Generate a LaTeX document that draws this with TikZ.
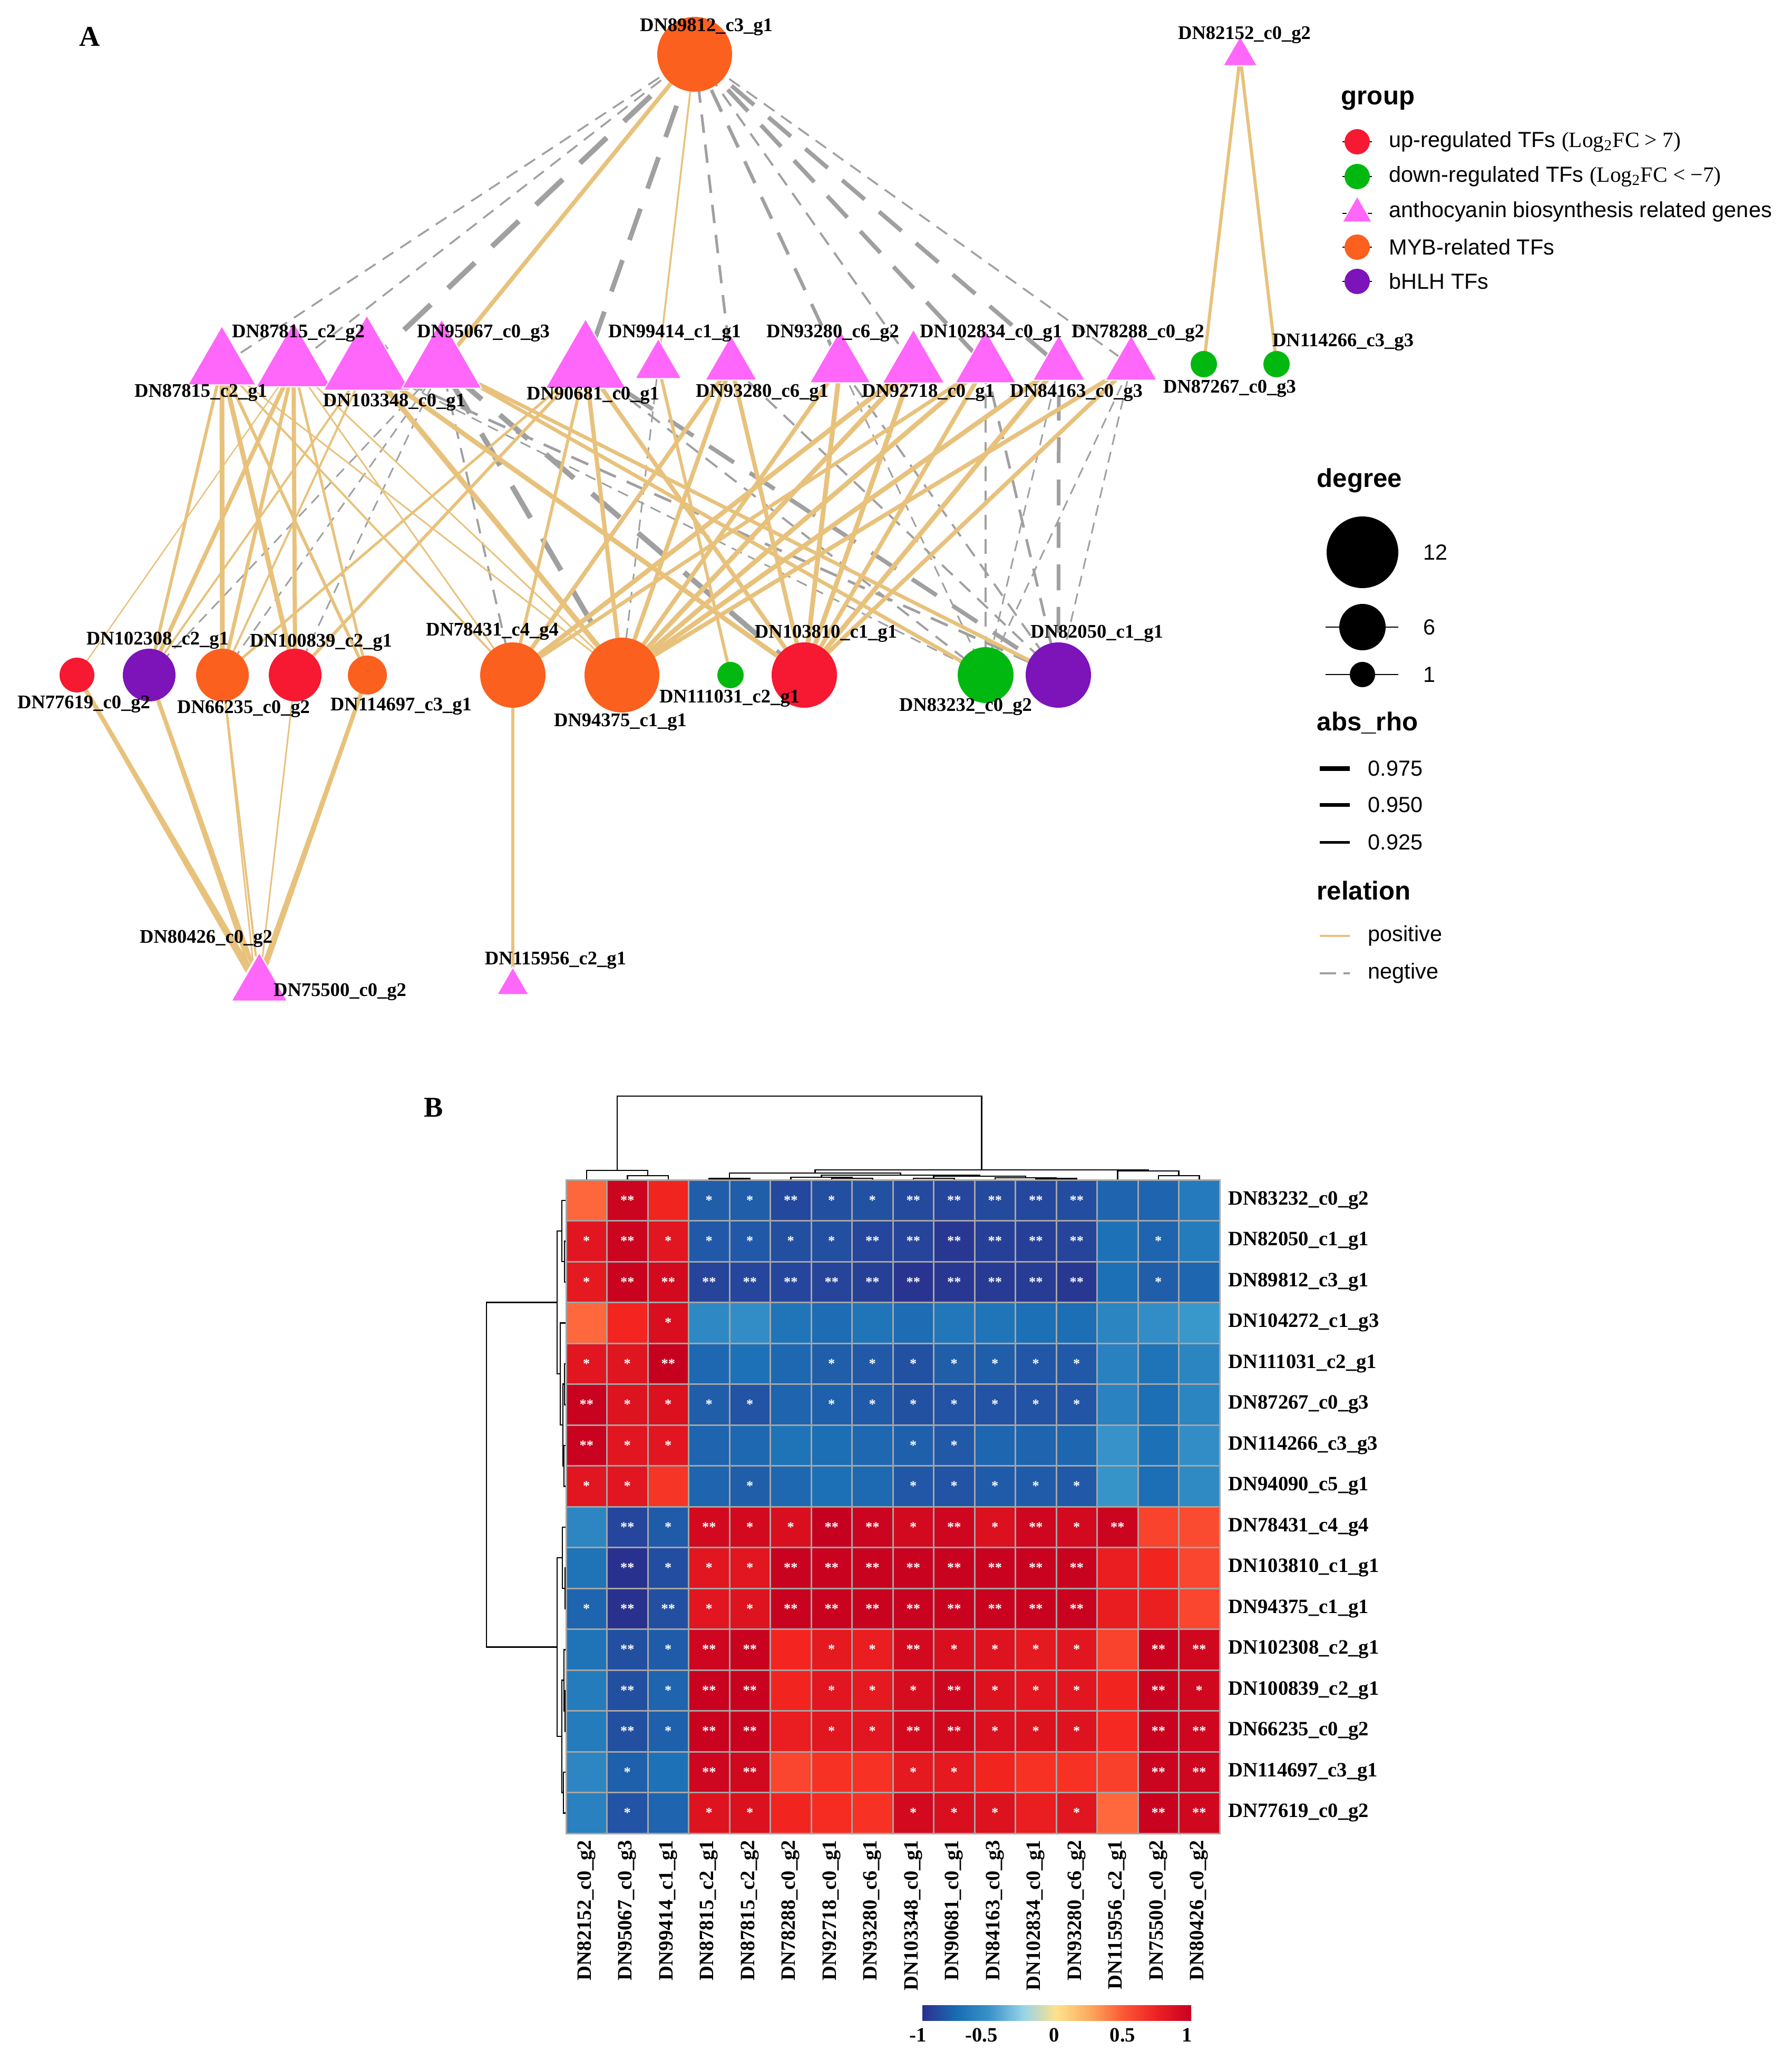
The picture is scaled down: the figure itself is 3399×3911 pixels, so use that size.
\documentclass[tikz,border=0pt]{standalone}
\usepackage{fontspec}
\setmainfont{Liberation Serif}
\setsansfont{Liberation Sans}
\usetikzlibrary{shapes.geometric,backgrounds}

\definecolor{tanc}{RGB}{232,194,124}
\definecolor{grayc}{RGB}{160,160,160}
\definecolor{pinkc}{RGB}{255,102,250}
\definecolor{upc}{RGB}{247,24,50}
\definecolor{downc}{RGB}{0,184,16}
\definecolor{mybc}{RGB}{252,96,30}
\definecolor{bhlhc}{RGB}{124,20,186}
\definecolor{hmgrid}{RGB}{165,165,165}
% heatmap ramp
\definecolor{hmA}{RGB}{41,49,142}
\definecolor{hmB}{RGB}{28,112,182}
\definecolor{hmC}{RGB}{60,155,205}
\definecolor{hmD}{RGB}{255,110,62}
\definecolor{hmE}{RGB}{245,38,32}
\definecolor{hmF}{RGB}{198,0,31}
% colour bar
\definecolor{cbA}{RGB}{43,47,142}
\definecolor{cbB}{RGB}{24,108,178}
\definecolor{cbC}{RGB}{58,146,200}
\definecolor{cbD}{RGB}{150,212,232}
\definecolor{cbE}{RGB}{255,226,140}
\definecolor{cbF}{RGB}{252,168,92}
\definecolor{cbG}{RGB}{252,86,52}
\definecolor{cbH}{RGB}{235,32,36}
\definecolor{cbI}{RGB}{200,0,31}
\pgfdeclarehorizontalshading{hmbar}{100bp}{color(0bp)=(cbA); color(25bp)=(cbA); color(31.25bp)=(cbB); color(37.5bp)=(cbC); color(43.75bp)=(cbD); color(50bp)=(cbE); color(56.25bp)=(cbF); color(62.5bp)=(cbG); color(68.75bp)=(cbH); color(75bp)=(cbI); color(100bp)=(cbI)}

% colour of one heatmap cell from its value
\newcommand\hmshade[1]{%
  \pgfmathsetmacro\hmv{#1}%
  \ifdim\hmv pt<-0.7pt
    \pgfmathtruncatemacro\hmp{min(100,(-0.7-(\hmv))/0.3*100)}\colorlet{hmcur}{hmA!\hmp!hmB}%
  \else\ifdim\hmv pt<0pt
    \pgfmathtruncatemacro\hmp{max(0,(-0.45-(\hmv))/0.25*100)}\colorlet{hmcur}{hmB!\hmp!hmC}%
  \else\ifdim\hmv pt<0.7pt
    \pgfmathtruncatemacro\hmp{max(0,((\hmv)-0.45)/0.25*100)}\colorlet{hmcur}{hmE!\hmp!hmD}%
  \else
    \pgfmathtruncatemacro\hmp{min(100,((\hmv)-0.7)/0.3*100)}\colorlet{hmcur}{hmF!\hmp!hmE}%
  \fi\fi\fi}
% dendrogram links
\newcommand\dtop[5]{\draw[dendro] (#1,#3) |- (#2,#5) -- (#2,#4);}
\newcommand\dleft[5]{\draw[dendro] (#3,#1) -| (#5,#2) -- (#4,#2);}

\tikzset{
  lbl/.style={font=\fontsize{10.4}{12}\selectfont\bfseries, inner sep=0pt},
  dot/.style={circle, inner sep=0pt, minimum size=#1*0.2mm},
  tri/.style={regular polygon, regular polygon sides=3, fill=pinkc, draw=white, line width=0.2mm, inner sep=0pt, minimum size=#1*0.1333mm},
  posedge/.style={draw=tanc, line width=#1*0.1mm},
  negedge/.style={draw=grayc, line width=#1*0.1mm, dash pattern=on #1*0.7mm off #1*0.45mm},
  hmlbl/.style={font=\fontsize{11}{13}\selectfont\bfseries, inner sep=0pt},
  hmstar/.style={font=\fontsize{7.5}{8}\selectfont\bfseries, text=white, inner sep=0pt},
  dendro/.style={line width=0.25mm},
  keytitle/.style={font=\fontsize{14}{16}\selectfont\sffamily\bfseries, anchor=west, inner sep=0pt},
  keytext/.style={font=\fontsize{11.8}{14}\selectfont\sffamily, anchor=west, inner sep=0pt},
  panel/.style={font=\fontsize{15.5}{18}\selectfont\bfseries, inner sep=0pt}
}

\begin{document}
\begin{tikzpicture}[x=0.1mm, y=-0.1mm]
\useasboundingbox (0,0) rectangle (3399,3911);

%% ---------------- A: network ----------------
\node[panel] (pA) at (170,70) {A};

% top row
\node[dot=71, fill=mybc] (n89812) at (1318,103) {};
\node[tri=56] (n82152) at (2353,106) {};
% genes
\node[tri=112] (n87815a) at (421,693) {};
\node[tri=123] (n87815b) at (557,693) {};
\node[tri=142] (n103348) at (696,693) {};
\node[tri=131] (n95067) at (838,693) {};
\node[tri=132] (n90681) at (1111,693) {};
\node[tri=76] (n99414) at (1249,693) {};
\node[tri=85] (n93280a) at (1387,693) {};
\node[tri=100] (n93280b) at (1594,693) {};
\node[tri=102] (n92718) at (1733,693) {};
\node[tri=100] (n102834) at (1870,693) {};
\node[tri=86] (n84163) at (2009,693) {};
\node[tri=85] (n78288) at (2146,693) {};
\node[dot=25, fill=downc] (n87267) at (2284,691) {};
\node[dot=25, fill=downc] (n114266) at (2422,691) {};
% TFs
\node[dot=33, fill=upc] (n77619) at (146,1281) {};
\node[dot=50, fill=bhlhc] (n102308) at (283,1281) {};
\node[dot=50, fill=mybc] (n66235) at (422,1281) {};
\node[dot=50, fill=upc] (n100839) at (560,1281) {};
\node[dot=37, fill=mybc] (n114697) at (697,1281) {};
\node[dot=62, fill=mybc] (n78431) at (973,1281) {};
\node[dot=71, fill=mybc] (n94375) at (1180,1281) {};
\node[dot=25, fill=downc] (n111031) at (1386,1281) {};
\node[dot=62, fill=upc] (n103810) at (1526,1281) {};
\node[dot=53, fill=downc] (n83232) at (1870,1281) {};
\node[dot=62, fill=bhlhc] (n82050) at (2008,1281) {};
% bottom genes
\node[tri=84] (n80426) at (485,1872) {};
\node[tri=92] (n75500) at (492,1869) {};
\node[tri=52] (n115956) at (973,1870) {};

% labels
\node[lbl] (t89812) at (1340,51) {DN89812\_c3\_g1};
\node[lbl] (t82152) at (2361,66) {DN82152\_c0\_g2};
\node[lbl] (t87815a) at (381,745) {DN87815\_c2\_g1};
\node[lbl] (t87815b) at (566,632) {DN87815\_c2\_g2};
\node[lbl] (t103348) at (748,763) {DN103348\_c0\_g1};
\node[lbl] (t95067) at (917,632) {DN95067\_c0\_g3};
\node[lbl] (t90681) at (1125,750) {DN90681\_c0\_g1};
\node[lbl] (t99414) at (1280,632) {DN99414\_c1\_g1};
\node[lbl] (t93280a) at (1446,745) {DN93280\_c6\_g1};
\node[lbl] (t93280b) at (1580,632) {DN93280\_c6\_g2};
\node[lbl] (t92718) at (1761,745) {DN92718\_c0\_g1};
\node[lbl] (t102834) at (1880,632) {DN102834\_c0\_g1};
\node[lbl] (t84163) at (2042,745) {DN84163\_c0\_g3};
\node[lbl] (t78288) at (2159,632) {DN78288\_c0\_g2};
\node[lbl] (t87267) at (2333,737) {DN87267\_c0\_g3};
\node[lbl] (t114266) at (2548,649) {DN114266\_c3\_g3};
\node[lbl] (t77619) at (159,1336) {DN77619\_c0\_g2};
\node[lbl] (t102308) at (299,1215) {DN102308\_c2\_g1};
\node[lbl] (t66235) at (462,1345) {DN66235\_c0\_g2};
\node[lbl] (t100839) at (609,1219) {DN100839\_c2\_g1};
\node[lbl] (t114697) at (761,1340) {DN114697\_c3\_g1};
\node[lbl] (t78431) at (934,1198) {DN78431\_c4\_g4};
\node[lbl] (t94375) at (1177,1370) {DN94375\_c1\_g1};
\node[lbl] (t111031) at (1384,1325) {DN111031\_c2\_g1};
\node[lbl] (t103810) at (1567,1202) {DN103810\_c1\_g1};
\node[lbl] (t83232) at (1832,1341) {DN83232\_c0\_g2};
\node[lbl] (t82050) at (2081,1202) {DN82050\_c1\_g1};
\node[lbl] (t80426) at (391,1781) {DN80426\_c0\_g2};
\node[lbl] (t75500) at (645,1882) {DN75500\_c0\_g2};
\node[lbl] (t115956) at (1054,1822) {DN115956\_c2\_g1};

% edges (width in px of abs_rho)
\begin{scope}[on background layer]
  \foreach \a/\b/\w in {n89812/n87815a/3.5, n89812/n87815b/3.5, n89812/n78288/3.5, n89812/n92718/4,
      n89812/n93280a/5, n89812/n103348/10, n89812/n90681/9, n89812/n84163/8, n89812/n102834/8, n89812/n93280b/6.5,
      n83232/n78288/3, n83232/n103348/3, n83232/n90681/4, n83232/n84163/3, n83232/n102834/4, n83232/n93280b/3,
      n82050/n93280a/4, n82050/n103348/5, n82050/n90681/8, n82050/n84163/7, n82050/n102834/5, n82050/n93280b/4,
      n82050/n78288/3, n78431/n95067/4, n103810/n95067/10, n94375/n95067/10, n94375/n99414/3,
      n102308/n95067/3, n100839/n95067/3, n66235/n95067/3}
    \draw[negedge=\w] (\a.center) -- (\b.center);
  \foreach \a/\b/\w in {n89812/n95067/8, n89812/n99414/3.5, n87267/n82152/6, n114266/n82152/6,
      n83232/n95067/7, n82050/n95067/7, n111031/n99414/6,
      n78431/n87815a/4, n78431/n87815b/3, n78431/n92718/9, n78431/n93280a/8, n78431/n90681/6,
      n78431/n102834/7, n78431/n115956/6,
      n103810/n78288/8, n103810/n92718/9, n103810/n93280a/8, n103810/n103348/9, n103810/n90681/8,
      n103810/n84163/9, n103810/n102834/8, n103810/n93280b/9,
      n94375/n78288/8, n94375/n92718/9, n94375/n93280a/8, n94375/n103348/10, n94375/n90681/8,
      n94375/n84163/9, n94375/n102834/9, n94375/n93280b/8, n94375/n87815a/3, n94375/n87815b/3,
      n102308/n87815a/6, n102308/n87815b/8, n102308/n103348/4, n102308/n75500/8, n102308/n80426/5,
      n100839/n87815a/9, n100839/n87815b/8, n100839/n90681/6, n100839/n75500/3,
      n66235/n87815a/9, n66235/n87815b/7, n66235/n103348/4, n66235/n90681/5, n66235/n75500/4, n66235/n80426/3,
      n114697/n87815a/6, n114697/n87815b/5, n114697/n75500/8, n114697/n80426/6,
      n77619/n75500/8, n77619/n80426/6, n77619/n87815b/2.5}
    \draw[posedge=\w] (\a.center) -- (\b.center);
\end{scope}

% legend: group
\node[keytitle] (kgroup) at (2544,190) {group};
\foreach \y in {269,335,405,469,534}
  \draw[line width=0.15mm] (2547,\y) -- (2603,\y);
\node[dot=24, fill=upc] (kup) at (2575,269) {};
\node[dot=24, fill=downc] (kdown) at (2575,335) {};
\node[tri=49] (kgene) at (2575,405) {};
\node[dot=24, fill=mybc] (kmyb) at (2575,469) {};
\node[dot=24, fill=bhlhc] (kbhlh) at (2575,534) {};
\node[keytext] (tup) at (2635,269) {up-regulated TFs {\rmfamily (Log\textsubscript{2}FC > 7)}};
\node[keytext] (tdown) at (2635,335) {down-regulated TFs {\rmfamily (Log\textsubscript{2}FC < −7)}};
\node[keytext] (tgene) at (2635,402) {anthocyanin biosynthesis related genes};
\node[keytext] (tmyb) at (2635,469) {MYB-related TFs};
\node[keytext] (tbhlh) at (2635,534) {bHLH TFs};

% legend: degree
\node[keytitle] (kdeg) at (2498,912) {degree};
\draw[line width=0.2mm] (2515,1190) -- (2653,1190);
\draw[line width=0.2mm] (2515,1280) -- (2653,1280);
\node[dot=68, fill=black] (kd12) at (2585,1048) {};
\node[dot=44, fill=black] (kd6) at (2585,1190) {};
\node[dot=24, fill=black] (kd1) at (2585,1280) {};
\node[keytext] (td12) at (2700,1048) {12};
\node[keytext] (td6) at (2700,1190) {6};
\node[keytext] (td1) at (2700,1280) {1};

% legend: abs_rho
\node[keytitle] (krho) at (2498,1372) {abs\_rho};
\draw[line width=0.9mm] (2504,1458) -- (2561,1458);
\draw[line width=0.7mm] (2504,1527) -- (2561,1527);
\draw[line width=0.5mm] (2504,1598) -- (2561,1598);
\node[keytext] (tr1) at (2595,1458) {0.975};
\node[keytext] (tr2) at (2595,1527) {0.950};
\node[keytext] (tr3) at (2595,1598) {0.925};

% legend: relation
\node[keytitle] (krel) at (2498,1690) {relation};
\draw[tanc, line width=0.4mm] (2504,1776) -- (2561,1776);
\draw[grayc, line width=0.4mm, dash pattern=on 3.1mm off 1.4mm] (2504,1847) -- (2561,1847);
\node[keytext] (tpos) at (2595,1776) {positive};
\node[keytext] (tneg) at (2595,1847) {negtive};

%% ---------------- B: heatmap ----------------
\node[panel] (pB) at (823,2102) {B};

\foreach \hmrow [count=\i] in {
  {0.48/0,0.97/2,0.72/0,-0.79/1,-0.79/1,-0.89/2,-0.86/1,-0.85/1,-0.88/2,-0.9/2,-0.88/2,-0.89/2,-0.87/2,-0.76/0,-0.76/0,-0.64/0},
  {0.83/1,0.97/2,0.83/1,-0.81/1,-0.81/1,-0.86/1,-0.86/1,-0.9/2,-0.91/2,-0.97/2,-0.93/2,-0.93/2,-0.91/2,-0.69/0,-0.76/1,-0.63/0},
  {0.8/1,0.98/2,0.92/2,-0.91/2,-0.9/2,-0.9/2,-0.91/2,-0.93/2,-0.99/2,-0.97/2,-0.96/2,-0.95/2,-0.97/2,-0.7/0,-0.79/1,-0.75/0},
  {0.47/0,0.71/0,0.88/1,-0.56/0,-0.53/0,-0.67/0,-0.72/0,-0.67/0,-0.72/0,-0.66/0,-0.67/0,-0.7/0,-0.71/0,-0.58/0,-0.53/0,-0.47/0},
  {0.83/1,0.84/1,1.0/2,-0.74/0,-0.69/0,-0.74/0,-0.79/1,-0.81/1,-0.85/1,-0.79/1,-0.79/1,-0.82/1,-0.81/1,-0.6/0,-0.68/0,-0.58/0},
  {0.99/2,0.85/1,0.87/1,-0.79/1,-0.84/1,-0.76/0,-0.78/1,-0.8/1,-0.85/1,-0.84/1,-0.84/1,-0.84/1,-0.83/1,-0.59/0,-0.71/0,-0.58/0},
  {0.99/2,0.83/1,0.83/1,-0.76/0,-0.74/0,-0.68/0,-0.71/0,-0.74/0,-0.78/1,-0.81/1,-0.75/0,-0.76/0,-0.75/0,-0.5/0,-0.7/0,-0.53/0},
  {0.83/1,0.83/1,0.65/0,-0.76/0,-0.79/1,-0.74/0,-0.7/0,-0.73/0,-0.82/1,-0.84/1,-0.8/1,-0.8/1,-0.81/1,-0.49/0,-0.71/0,-0.55/0},
  {-0.57/0,-0.9/2,-0.8/1,0.92/2,0.92/1,0.88/1,1.0/2,0.97/2,0.92/1,0.95/2,0.87/1,0.95/2,0.92/1,0.97/2,0.6/0,0.57/0},
  {-0.68/0,-1.0/2,-0.87/1,0.83/1,0.83/1,0.99/2,0.98/2,0.98/2,0.99/2,0.98/2,0.99/2,0.99/2,0.99/2,0.77/0,0.72/0,0.59/0},
  {-0.76/1,-1.0/2,-0.86/2,0.83/1,0.85/1,0.98/2,0.98/2,0.98/2,0.99/2,0.98/2,0.99/2,0.98/2,0.98/2,0.78/0,0.76/0,0.59/0},
  {-0.68/0,-0.86/2,-0.8/1,0.95/2,0.98/2,0.71/0,0.8/1,0.77/1,0.92/2,0.88/1,0.85/1,0.8/1,0.83/1,0.6/0,0.98/2,0.94/2},
  {-0.63/0,-0.86/2,-0.76/1,0.99/2,0.98/2,0.72/0,0.83/1,0.8/1,0.9/1,0.95/2,0.86/1,0.83/1,0.83/1,0.72/0,0.98/2,0.94/1},
  {-0.63/0,-0.86/2,-0.78/1,0.99/2,0.98/2,0.77/0,0.83/1,0.83/1,0.92/2,0.93/2,0.87/1,0.86/1,0.85/1,0.69/0,0.98/2,0.95/2},
  {-0.57/0,-0.78/1,-0.69/0,0.95/2,0.93/2,0.59/0,0.66/0,0.66/0,0.8/1,0.8/1,0.72/0,0.66/0,0.66/0,0.61/0,0.97/2,0.95/2},
  {-0.6/0,-0.84/1,-0.76/0,0.85/1,0.87/1,0.72/0,0.68/0,0.66/0,0.92/1,0.88/1,0.86/1,0.77/0,0.83/1,0.47/0,0.98/2,0.94/2}}{
  \foreach \v/\s [count=\j] in \hmrow {
    \hmshade{\v}
    \filldraw[fill=hmcur, draw=hmgrid, line width=0.3mm] ({1074+(\j-1)*77.5},{2239+(\i-1)*77.5}) rectangle +(77.5,77.5);
    \ifnum\s>0 \node[hmstar] at ({1074+(\j-0.5)*77.5},{2239+(\i-0.5)*77.5}) {\ifnum\s=1 *\else **\fi};\fi
  }
}

% row and column labels
\foreach \t [count=\i] in {DN83232\_c0\_g2, DN82050\_c1\_g1, DN89812\_c3\_g1, DN104272\_c1\_g3,
    DN111031\_c2\_g1, DN87267\_c0\_g3, DN114266\_c3\_g3, DN94090\_c5\_g1, DN78431\_c4\_g4,
    DN103810\_c1\_g1, DN94375\_c1\_g1, DN102308\_c2\_g1, DN100839\_c2\_g1, DN66235\_c0\_g2,
    DN114697\_c3\_g1, DN77619\_c0\_g2}
  \node[hmlbl, anchor=west] at (2330,{2239+(\i-0.5)*77.5}) {\t};
\foreach \t [count=\i] in {DN82152\_c0\_g2, DN95067\_c0\_g3, DN99414\_c1\_g1, DN87815\_c2\_g1,
    DN87815\_c2\_g2, DN78288\_c0\_g2, DN92718\_c0\_g1, DN93280\_c6\_g1, DN103348\_c0\_g1,
    DN90681\_c0\_g1, DN84163\_c0\_g3, DN102834\_c0\_g1, DN93280\_c6\_g2, DN115956\_c2\_g1,
    DN75500\_c0\_g2, DN80426\_c0\_g2}
  \node[hmlbl, rotate=90, anchor=east] at ({1074+(\i-0.5)*77.5},3491) {\t};

% column dendrogram
\dtop{1190.25}{1267.75}{2238}{2238}{2231}
\dtop{1112.75}{1229}{2238}{2231}{2221}
\dtop{1345.25}{1422.75}{2238}{2238}{2236.5}
\dtop{1577.75}{1655.25}{2238}{2238}{2236}
\dtop{1500.25}{1616.5}{2238}{2236}{2234}
\dtop{1732.75}{1810.25}{2238}{2238}{2236}
\dtop{1965.25}{2042.75}{2238}{2238}{2236.5}
\dtop{1887.75}{2004}{2238}{2236.5}{2235}
\dtop{1771.5}{1945.9}{2236}{2235}{2232}
\dtop{1558.4}{1858.7}{2234}{2232}{2230}
\dtop{1384}{1708.5}{2236.5}{2230}{2226}
\dtop{2197.75}{2275.25}{2238}{2238}{2231}
\dtop{2120.25}{2236.5}{2238}{2231}{2222}
\dtop{1546.3}{2178.4}{2226}{2222}{2220}
\dtop{1170.9}{1862.3}{2221}{2220}{2080}

% row dendrogram
\dleft{2355.25}{2432.75}{1073}{1073}{1071}
\dleft{2277.75}{2394}{1073}{1071}{1066}
\dleft{2587.75}{2665.25}{1073}{1073}{1071}
\dleft{2742.75}{2820.25}{1073}{1073}{1070}
\dleft{2626.5}{2781.5}{1071}{1070}{1068}
\dleft{2510.25}{2704}{1073}{1068}{1063}
\dleft{2335.9}{2607.1}{1066}{1063}{1057}
\dleft{2975.25}{3052.75}{1073}{1073}{1072}
\dleft{2897.75}{3014}{1073}{1072}{1067}
\dleft{3207.75}{3285.25}{1073}{1073}{1072}
\dleft{3130.25}{3246.5}{1073}{1072}{1070}
\dleft{3362.75}{3440.25}{1073}{1073}{1069}
\dleft{3188.4}{3401.5}{1070}{1069}{1066}
\dleft{2955.9}{3295}{1067}{1066}{1057}
\dleft{2471.5}{3125.4}{1057}{1057}{923}

% colour bar
\shade[shading=hmbar] (1750,3805) rectangle (2260,3834);
\foreach \x/\t in {1742/-1, 1862/-0.5, 2000/0, 2130/0.5, 2252/1}
  \node[hmlbl] at (\x,3862) {\t};

\end{tikzpicture}
\end{document}
